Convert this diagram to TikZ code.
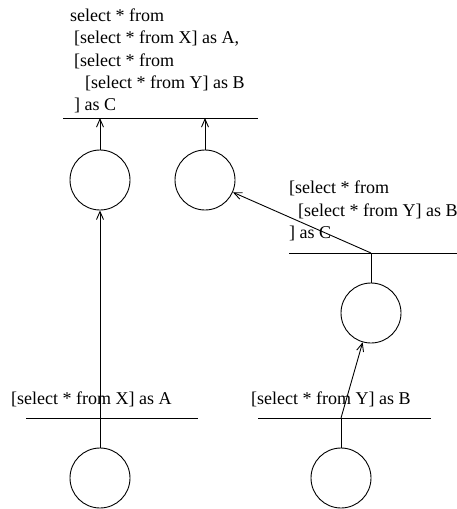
\documentclass[tikz,border=0pt]{standalone}
\usepackage{fontspec}
\setmainfont{Liberation Serif}
\usetikzlibrary{arrows.meta}
\begin{document}
\begin{tikzpicture}[x=1pt,y=-1pt,
  every node/.style={font=\fontsize{18}{22}\selectfont},
  op/.style={draw,circle,minimum size=60pt,inner sep=0pt,line width=0.9pt},
  txt/.style={anchor=base west,inner sep=0pt},
  bar/.style={line width=0.9pt},
  edge/.style={line width=0.9pt},
  arr/.style={line width=0.9pt,-{Straight Barb[length=8pt,width=7pt]}}]
\useasboundingbox (0,0) rectangle (457,509);

% operators
\node[op] (L1) at (100,180) {};
\node[op] (L2) at (205,180) {};
\node[op] (M)  at (371,313) {};
\node[op] (B1) at (100,478) {};
\node[op] (B2) at (341,478) {};

% query labels
\node[txt] (q1) at (70,21)  {select * from};
\node[txt] (q2) at (74,43)  {[select * from X] as A,};
\node[txt] (q3) at (74,66)  {[select * from};
\node[txt] (q4) at (85,88)  {[select * from Y] as B};
\node[txt] (q5) at (74,110) {] as C};

\node[txt] (m1) at (289,193) {[select * from};
\node[txt] (m2) at (298,216) {[select * from Y] as B};
\node[txt] (m3) at (289,238) {] as C};

\node[txt] (a1) at (11,404)  {[select * from X] as A};
\node[txt] (b1) at (251,404) {[select * from Y] as B};

% result bars
\coordinate (tL) at (63,118);  \coordinate (tR) at (258,118);
\coordinate (mL) at (289,253); \coordinate (mR) at (457,253);
\coordinate (aL) at (26,418);  \coordinate (aR) at (198,418);
\coordinate (bL) at (258,418); \coordinate (bR) at (431,418);
\draw[bar] (tL) -- (tR);
\draw[bar] (mL) -- (mR);
\draw[bar] (aL) -- (aR);
\draw[bar] (bL) -- (bR);

% junctions on the bars
\coordinate (jm) at (M.north |- mL);
\coordinate (jb) at (B2.north |- bL);

% data flow
\draw[arr] (L1.north) -- (L1.north |- tL);
\draw[arr] (L2.north) -- (L2.north |- tL);
\draw[edge] (M.north) -- (jm);
\draw[arr] (jm) -- (L2);
\draw[edge] (B2.north) -- (jb);
\draw[arr] (jb) -- (M);
\draw[arr] (B1.north) -- (L1.south);
\end{tikzpicture}
\end{document}
